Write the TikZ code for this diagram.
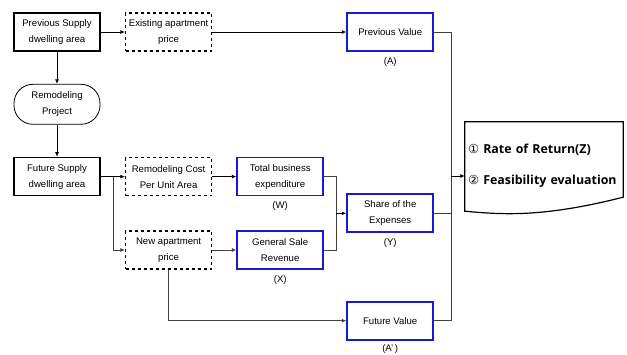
\documentclass[tikz,border=0pt]{standalone}
\usepackage{fontspec}
\setmainfont{Liberation Sans}
\newfontfamily\resultfont{Open Sans}
\newfontfamily\circfont{DejaVu Sans}
\usepackage{tikz}
\usetikzlibrary{positioning,arrows.meta,calc}
\definecolor{valueblue}{RGB}{25,25,205}

\begin{document}
\begin{tikzpicture}[
    x=1pt,y=1pt,
    node distance=32pt and 24pt,
    every node/.style={font=\fontsize{9.6}{16}\selectfont},
    plainbox/.style={rectangle,draw,line width=1.8pt,
                     minimum width=86pt,minimum height=38pt,
                     inner sep=1pt,align=center},
    dashbox/.style={plainbox,dashed,line width=1.4pt},
    valuebox/.style={plainbox,draw=valueblue},
    roundbox/.style={plainbox,line width=0.8pt,rounded corners=19pt,
                     minimum height=40pt},
    tag/.style={inner sep=0pt},
    arrow/.style={-{Latex[length=4.5pt,width=4pt]},line width=0.8pt},
    link/.style={line width=0.8pt,black!75}
]
\useasboundingbox (0,0) rectangle (627,354);

% left column
\node[plainbox] (prevsupply) at (57,322) {Previous Supply\\dwelling area};
\node[roundbox,below=of prevsupply] (remodel) {Remodeling\\Project};
\node[plainbox,below=of remodel] (futsupply) {Future Supply\\dwelling area};

% prices and costs
\node[dashbox,right=of prevsupply] (existprice) {Existing apartment\\price};
\node[dashbox,right=of futsupply] (remcost) {Remodeling Cost\\Per Unit Area};
\node[dashbox,below=of remcost,yshift=-2pt] (newprice) {New apartment\\price};
\node[valuebox,right=of remcost] (totalcost) {Total business\\expenditure};
\node[valuebox,right=of newprice] (salerev) {General Sale\\Revenue};

% values
\node[valuebox,right=134pt of existprice] (prevvalue) {Previous Value};
\coordinate (midWX) at ($(totalcost)!0.5!(salerev)$);
\node[valuebox] (share) at (prevvalue |- midWX) {Share of the\\Expenses};
\coordinate[below=51pt of newprice] (futrow);
\node[valuebox] (futvalue) at (prevvalue |- futrow) {Future Value};

\node[tag,below=5pt of prevvalue] (lblA) {(A)};
\node[tag,below=5pt of totalcost] (lblW) {(W)};
\node[tag,below=5pt of salerev] (lblX) {(X)};
\node[tag,below=5pt of share] (lblY) {(Y)};
\node[tag,below=4pt of futvalue] (lblAp) {(A'\,)};

% result sheet
\node[minimum width=158pt,minimum height=88pt,text width=152pt,
      align=left,inner sep=3pt,
      font=\resultfont\bfseries\fontsize{12.4}{32}\selectfont]
      (result) at (544,188)
      {{\circfont\mdseries ①} Rate of Return(Z)\\[-1pt]{\circfont\mdseries ②} Feasibility evaluation\\[8pt]};
\draw[line width=1.2pt] (result.south west) -- (result.north west)
    -- (result.north east) -- ([yshift=13pt]result.south east)
    .. controls (545,137) and (505,139) .. ([yshift=-1pt]result.south west) -- cycle;

% connectors
\draw[arrow] (prevsupply) -- (existprice);
\draw[arrow] (existprice) -- (prevvalue);
\draw[arrow] (prevsupply) -- (remodel);
\draw[arrow] (remodel) -- (futsupply);
\draw[arrow] (futsupply) -- (remcost);
\draw[arrow,link] ($(futsupply.east)!0.5!(remcost.west)$) |- (newprice);
\draw[arrow] (remcost) -- (totalcost);
\draw[arrow,link] (newprice) -- (salerev);
\draw[link] (totalcost.east) -- ++(12pt,0) coordinate (joinWX) |- (salerev.east);
\draw[arrow] (joinWX |- share.west) -- (share);
\draw[arrow,link] (newprice.south) |- (futvalue);
\draw[link] (prevvalue.east) -- ++(17pt,0) coordinate (joinAll) |- (futvalue.east);
\draw[link] (share) -- (joinAll |- share.east);
\draw[arrow] (joinAll |- 0,178) -- (result.west |- 0,178);
\end{tikzpicture}
\end{document}
